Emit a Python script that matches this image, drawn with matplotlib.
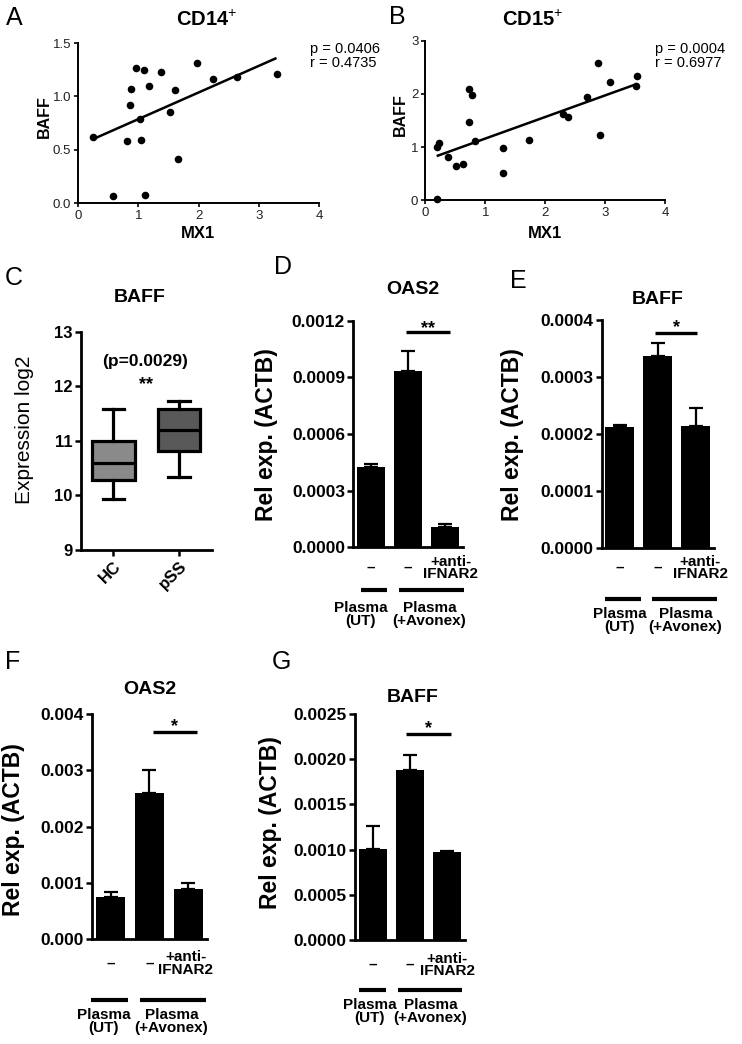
import numpy as np
import matplotlib
matplotlib.use("Agg")
import matplotlib.pyplot as plt

plt.rcParams['font.family'] = ['Liberation Sans', 'DejaVu Sans']
plt.rcParams['mathtext.fontset'] = 'custom'
plt.rcParams['mathtext.rm'] = 'Liberation Sans'
plt.rcParams['mathtext.bf'] = 'Liberation Sans:bold'

# ---------------- DATA ----------------
# A: CD14+ (MX1 vs BAFF)
cd14_mx1 = [0.245, 0.578, 0.81, 0.86, 0.88, 0.96, 1.03, 1.04, 1.095, 1.105,
            1.18, 1.378, 1.533, 1.61, 1.667, 1.97, 2.245, 2.645, 3.295]
cd14_baff = [0.615, 0.066, 0.578, 0.915, 1.068, 1.265, 0.784, 0.59, 1.243, 0.078,
             1.093, 1.228, 0.853, 1.059, 0.412, 1.309, 1.165, 1.184, 1.209]
cd14_stats = "p = 0.0406\nr = 0.4735"

# B: CD15+ (MX1 vs BAFF)
cd15_mx1 = [0.189, 0.233, 0.2, 0.383, 0.506, 0.633, 0.722, 0.733, 0.783, 0.828,
            1.289, 1.289, 1.733, 2.3, 2.383, 2.689, 2.883, 2.917, 3.078, 3.506, 3.528]
cd15_baff = [1.002, 1.083, 0.019, 0.808, 0.645, 0.689, 1.465, 2.091, 1.972, 1.115,
             0.989, 0.513, 1.14, 1.622, 1.565, 1.941, 2.58, 1.221, 2.223, 2.141, 2.342]
cd15_stats = "p = 0.0004\nr = 0.6977"

# C: BAFF expression boxplot
box_groups = ["HC", "pSS"]
box_whislo = [9.93, 10.34]
box_q1 = [10.29, 10.82]
box_med = [10.585, 11.2]
box_q3 = [11.0, 11.583]
box_whishi = [11.577, 11.737]
box_colors = ["#8a8a8a", "#595959"]

# D-G: bar charts (mean, SEM)
bar_conditions = ["–", "–", "+anti-\nIFNAR2"]
group_labels = ["Plasma\n(UT)", "Plasma\n(+Avonex)"]

d_mean = [0.000427, 0.000935, 0.000106]
d_sem = [0.000016, 0.000106, 0.000018]
d_ticks = ["0.0000", "0.0003", "0.0006", "0.0009", "0.0012"]

e_mean = [0.0002124, 0.000337, 0.000214]
e_sem = [0.0000036, 0.000022, 0.000032]
e_ticks = ["0.0000", "0.0001", "0.0002", "0.0003", "0.0004"]

f_mean = [0.000757, 0.002593, 0.000899]
f_sem = [0.000088, 0.000414, 0.000096]
f_ticks = ["0.000", "0.001", "0.002", "0.003", "0.004"]

g_mean = [0.001007, 0.00188, 0.00097]
g_sem = [0.000253, 0.000163, 0.000015]
g_ticks = ["0.0000", "0.0005", "0.0010", "0.0015", "0.0020", "0.0025"]

# ---------------- FIGURE ----------------
W, H = 742, 1044
fig = plt.figure(figsize=(W / 100, H / 100), dpi=100)


def add_ax(l, t, r, b):
    return fig.add_axes([l / W, 1 - b / H, (r - l) / W, (b - t) / H])


def ftext(x, y, s, **kw):
    fig.text(x / W, 1 - y / H, s, **kw)


def style_axes(ax, lw, ticklen, tickw, labelsize, weight, color='black'):
    for sp in ['top', 'right']:
        ax.spines[sp].set_visible(False)
    for sp in ['left', 'bottom']:
        ax.spines[sp].set_linewidth(lw)
    ax.tick_params(direction='out', length=ticklen, width=tickw,
                   labelsize=labelsize, pad=2, labelcolor=color)
    for lab in ax.get_xticklabels() + ax.get_yticklabels():
        lab.set_fontweight(weight)


# ---- Scatter panels ----
def scatter_panel(ax, x, y, ylim, yticks, ytl):
    x = np.asarray(x)
    y = np.asarray(y)
    ax.scatter(x, y, s=30, color='black', zorder=3, clip_on=False, linewidths=0)
    k, c = np.polyfit(x, y, 1)
    xs = np.array([x.min(), x.max()])
    ax.plot(xs, k * xs + c, color='black', lw=1.8, solid_capstyle='butt')
    ax.set_xlim(0, 4)
    ax.set_ylim(*ylim)
    ax.set_xticks([0, 1, 2, 3, 4])
    ax.set_yticks(yticks)
    ax.set_yticklabels(ytl)
    style_axes(ax, 1.4, 3, 1.2, 9.5, 'normal', '#222222')


axA = add_ax(78, 43, 319, 203)
scatter_panel(axA, cd14_mx1, cd14_baff, (0, 1.5), [0, 0.5, 1.0, 1.5],
              ["0.0", "0.5", "1.0", "1.5"])
axB = add_ax(425.3, 40.7, 665.3, 200.3)
scatter_panel(axB, cd15_mx1, cd15_baff, (0, 3), [0, 1, 2, 3], ["0", "1", "2", "3"])

ftext(207, 20, r"CD14$^{+}$", ha='center', va='center', fontsize=14.5, fontweight='bold')
ftext(533, 20, r"CD15$^{+}$", ha='center', va='center', fontsize=14.5, fontweight='bold')
ftext(310, 56, cd14_stats, ha='left', va='center', fontsize=10.5, linespacing=1.05)
ftext(655, 56, cd15_stats, ha='left', va='center', fontsize=10.5, linespacing=1.05)
ftext(198, 233, "MX1", ha='center', va='center', fontsize=12, fontweight='bold')
ftext(545, 233, "MX1", ha='center', va='center', fontsize=12, fontweight='bold')
ftext(44, 117, "BAFF", ha='center', va='center', fontsize=11.5, fontweight='bold', rotation=90)
ftext(400, 115, "BAFF", ha='center', va='center', fontsize=11.5, fontweight='bold', rotation=90)

# ---- Boxplot panel C ----
axC = add_ax(80.7, 331.7, 211.7, 550)
stats = []
for i, g in enumerate(box_groups):
    stats.append(dict(label=g, whislo=box_whislo[i], q1=box_q1[i], med=box_med[i],
                      q3=box_q3[i], whishi=box_whishi[i]))
bp = axC.bxp(stats, positions=[1, 2], widths=0.65, patch_artist=True,
             showfliers=False, capwidths=0.33,
             boxprops=dict(linewidth=2.3, edgecolor='black'),
             medianprops=dict(linewidth=2.3, color='black'),
             whiskerprops=dict(linewidth=2.3, color='black'),
             capprops=dict(linewidth=2.3, color='black'))
for patch, col in zip(bp['boxes'], box_colors):
    patch.set_facecolor(col)
axC.set_xlim(0.5, 2.5)
axC.set_ylim(9, 13)
axC.set_yticks([9, 10, 11, 12, 13])
axC.set_xticks([1, 2])
axC.set_xticklabels(box_groups, rotation=45, ha='right', va='top', rotation_mode='anchor')
style_axes(axC, 2.0, 4, 1.8, 12, 'bold')
axC.text(1.49, 12.45, "(p=0.0029)", ha='center', va='center', fontsize=12.5, fontweight='bold')
axC.text(1.49, 11.95, "**", ha='center', va='baseline', fontsize=13, fontweight='bold')
ftext(140, 298, "BAFF", ha='center', va='center', fontsize=14, fontweight='bold')
ftext(25, 430, "Expression log2", ha='center', va='center', fontsize=15, rotation=90)


# ---- Bar panels ----
def bar_panel(ax, mean, sem, ticks, cfg):
    x = np.arange(len(mean))
    ax.bar(x, mean, width=0.75, color='black', zorder=2)
    ax.errorbar(x, mean, yerr=[np.zeros(len(sem)), sem], fmt='none', ecolor='black',
                elinewidth=1.6, capsize=5, capthick=1.6, zorder=1)
    tv = [float(t) for t in ticks]
    ax.set_ylim(tv[0], tv[-1])
    ax.set_yticks(tv)
    ax.set_yticklabels(ticks)
    ax.set_xlim(-0.47, 2.48)
    ax.set_xticks([])
    style_axes(ax, 2.0, 4, 1.8, 12.5, 'bold')
    h_px = ax.get_position().height * H
    tr = ax.get_xaxis_transform()
    # condition labels under bars
    for xi, lab in zip(cfg['cond_x'], bar_conditions):
        ax.text(xi, -cfg['cond_dy'] / h_px, lab, transform=tr, ha='center', va='center',
                fontsize=11, fontweight='bold', linespacing=0.85, clip_on=False)
    # group lines
    for (x0, x1) in cfg['lines']:
        ax.plot([x0, x1], [-cfg['line_dy'] / h_px] * 2, transform=tr, color='black',
                lw=3, solid_capstyle='butt', clip_on=False)
    for xi, lab in zip(cfg['grp_x'], group_labels):
        ax.text(xi, -cfg['grp_dy'] / h_px, lab, transform=tr, ha='center', va='center',
                fontsize=11, fontweight='bold', linespacing=0.9, clip_on=False)
    # significance
    sx0, sx1, sy = cfg['sig']
    ax.plot([sx0, sx1], [sy, sy], color='black', lw=2.4, solid_capstyle='butt', clip_on=False)
    ax.annotate(cfg['stars'], xy=((sx0 + sx1) / 2, sy), xytext=(0, cfg['star_dy'] * 0.72),
                textcoords='offset points', ha='center', va='baseline', fontsize=13,
                fontweight='bold', annotation_clip=False)


axD = add_ax(353.3, 320.7, 462.7, 547.3)
bar_panel(axD, d_mean, d_sem, d_ticks,
          dict(cond_x=[0, 1, 2.16], cond_dy=20.5, lines=[(-0.27, 0.45), (0.76, 2.52)],
               line_dy=42.7, grp_x=[-0.27, 1.58], grp_dy=67.4,
               sig=(0.96, 2.14, 0.001138), stars="**", star_dy=-1))
axE = add_ax(601.7, 320, 714, 548.3)
bar_panel(axE, e_mean, e_sem, e_ticks,
          dict(cond_x=[0, 1, 2.12], cond_dy=19.5, lines=[(-0.39, 0.56), (0.85, 2.55)],
               line_dy=50.7, grp_x=[0.0, 1.73], grp_dy=72.2,
               sig=(0.94, 2.03, 0.000378), stars="*", star_dy=0))
axF = add_ax(92.3, 714, 206.7, 939.3)
bar_panel(axF, f_mean, f_sem, f_ticks,
          dict(cond_x=[0, 1, 1.94], cond_dy=24.3, lines=[(-0.5, 0.46), (0.76, 2.46)],
               line_dy=60.7, grp_x=[-0.18, 1.57], grp_dy=82.2,
               sig=(1.09, 2.22, 0.003677), stars="*", star_dy=1))
axG = add_ax(355, 714, 465, 940)
bar_panel(axG, g_mean, g_sem, g_ticks,
          dict(cond_x=[0, 1, 2.0], cond_dy=24.9, lines=[(-0.37, 0.37), (0.67, 2.41)],
               line_dy=50, grp_x=[-0.08, 1.55], grp_dy=71.5,
               sig=(0.9, 2.1, 0.002279), stars="*", star_dy=0.5))

for (x, y, s) in [(413, 290, "OAS2"), (658, 300, "BAFF"), (150, 690, "OAS2"), (413, 698, "BAFF")]:
    ftext(x, y, s, ha='center', va='center', fontsize=14, fontweight='bold')
for (x, y) in [(267, 435), (513, 435), (14, 830), (270, 823)]:
    ftext(x, y, "Rel exp. (ACTB)", ha='center', va='center', fontsize=16.5,
          fontweight='bold', rotation=90)

# panel letters
for (x, y, s) in [(14.5, 18, "A"), (397, 17.5, "B"), (14, 278, "C"), (283, 267, "D"),
                  (518.5, 281, "E"), (12.5, 662, "F"), (281.5, 662, "G")]:
    ftext(x, y, s, ha='center', va='center', fontsize=18)

fig.savefig("out.png", dpi=100)
